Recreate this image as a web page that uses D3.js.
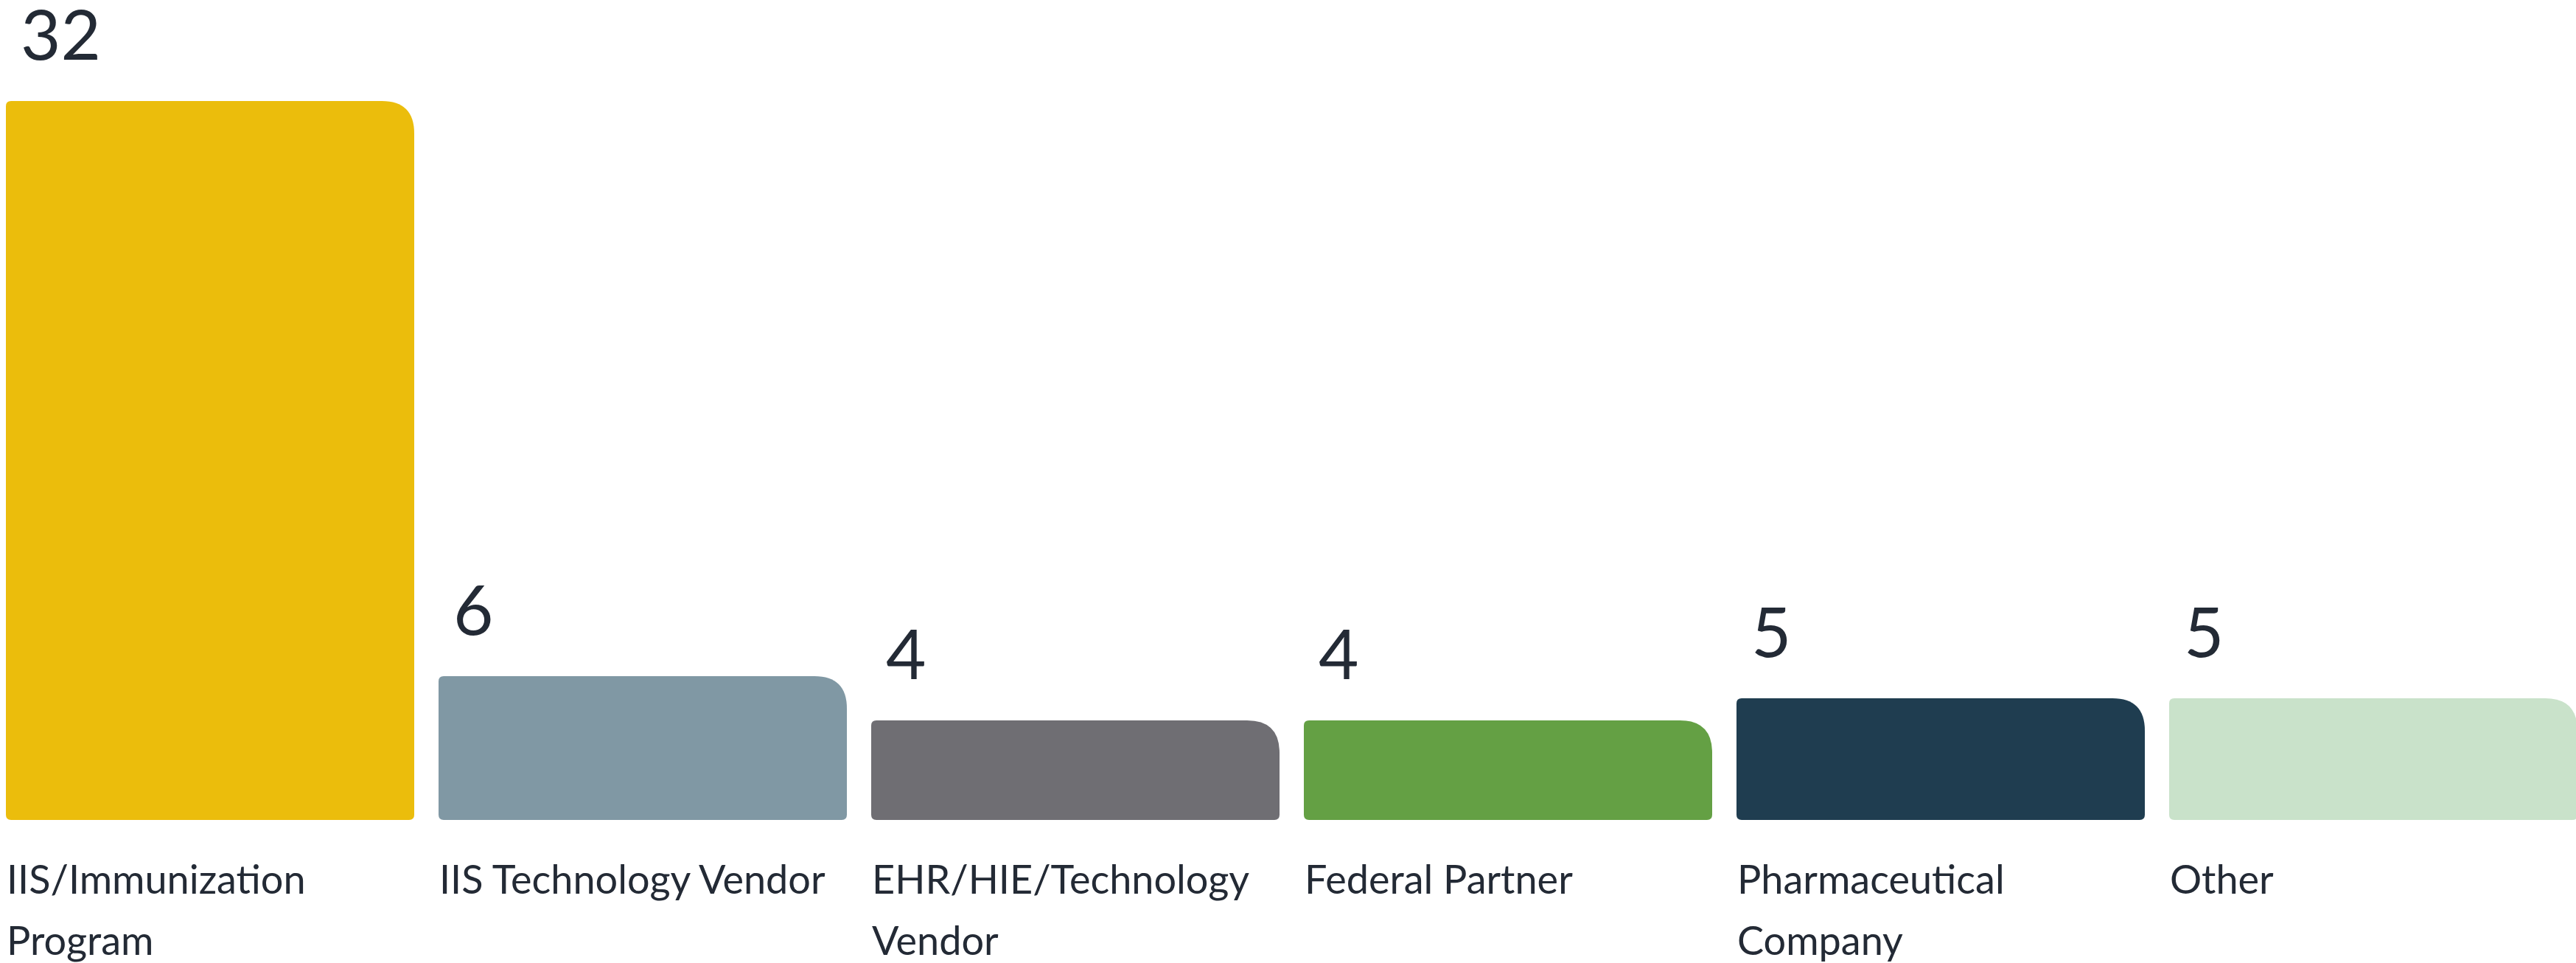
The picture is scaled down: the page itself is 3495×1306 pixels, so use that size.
<!DOCTYPE html>
<html>
<meta charset="utf-8">
<title>Responses by organisation type</title>
<style>
    body { margin: 0; background: #fff; }
    .value { font-family: Lato, sans-serif; font-size: 94px; fill: #232a35; }
    .cat { font-family: Lato, sans-serif; font-size: 54px; fill: #232a35; }
</style>
<script src="https://cdn.jsdelivr.net/npm/d3@7"></script>

<script>
    // chart data
    const categories = ["IIS/Immunization Program", "IIS Technology Vendor", "EHR/HIE/Technology Vendor",
        "Federal Partner", "Pharmaceutical Company", "Other"]
    const counts = [32, 6, 4, 4, 5, 5]
    const colors = ["#ebbd0c", "#8098a4", "#6f6e73", "#64a044", "#1f3d50", "#c9e2ca"]

    // rect with a big top-right corner and small others
    function barPath(x, y, w, h, rBig, r) {
        return `M${x + r},${y}` +
            `H${x + w - rBig}` +
            `Q${x + w},${y} ${x + w},${y + rBig}` +
            `V${y + h - r}` +
            `Q${x + w},${y + h} ${x + w - r},${y + h}` +
            `H${x + r}` +
            `Q${x},${y + h} ${x},${y + h - r}` +
            `V${y + r}` +
            `Q${x},${y} ${x + r},${y}Z`
    }

    function wrap(text, width) {
        text.each(function () {
            let t = d3.select(this)
            let words = t.text().split(/\s+/)
            let x = t.attr("x")
            t.text(null)
            let line = []
            let n = 0
            let tspan = t.append("tspan").attr("x", x).attr("dy", 0)
            words.forEach(w => {
                line.push(w)
                tspan.text(line.join(" "))
                if (tspan.node().getComputedTextLength() > width && line.length > 1) {
                    line.pop()
                    tspan.text(line.join(" "))
                    line = [w]
                    n++
                    tspan = t.append("tspan").attr("x", x).attr("dy", 83).text(w)
                }
            })
        })
    }

    function draw() {
        const W = 3495, H = 1306
        const svg = d3.select("body").append("svg").attr("width", W).attr("height", H)

        const x = d3.scaleBand().domain(categories).range([8, 3497]).paddingInner(0.0562).paddingOuter(0)
        const y = d3.scaleLinear().domain([-0.5, 32]).range([1112, 137])

        const data = categories.map((c, i) => ({ cat: c, v: counts[i], col: colors[i] }))

        svg.selectAll("path.bar")
            .data(data)
            .enter().append("path")
            .attr("class", "bar")
            .attr("fill", d => d.col)
            .attr("d", d => barPath(x(d.cat), y(d.v), x.bandwidth(), y(-0.5) - y(d.v), 44, 7))

        svg.selectAll("text.value")
            .data(data)
            .enter().append("text")
            .attr("class", "value")
            .attr("x", d => x(d.cat) + 20)
            .attr("y", d => y(d.v) - 56)
            .text(d => d.v)

        svg.selectAll("text.cat")
            .data(data)
            .enter().append("text")
            .attr("class", "cat")
            .attr("x", d => x(d.cat) + 1)
            .attr("y", 1212)
            .text(d => d.cat)
            .call(wrap, x.bandwidth())
    }
</script>

<body onload="draw()">
</body>

</html>
